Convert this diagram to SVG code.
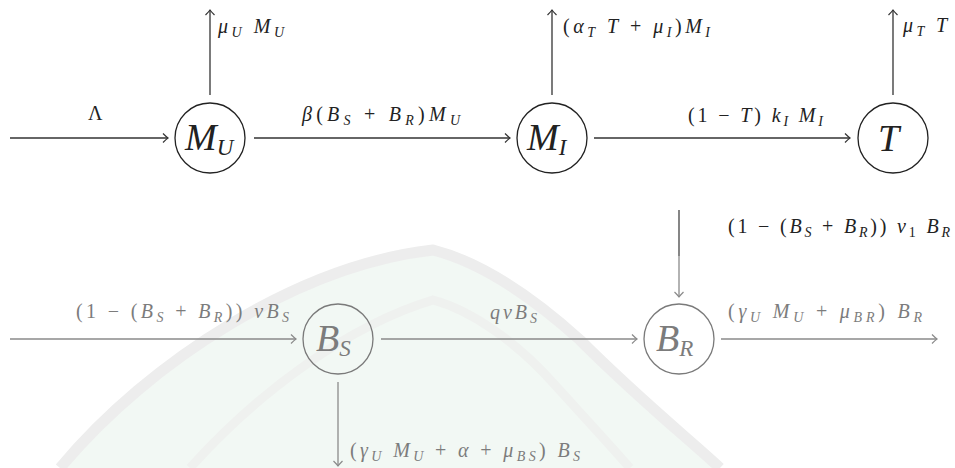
<svg xmlns="http://www.w3.org/2000/svg" width="955" height="468" viewBox="0 0 955 468">
<defs>
<style>
.m{font-family:"Liberation Serif",serif;font-style:italic;font-size:20px;fill:#222}
.r{font-style:normal}
.s{font-size:14px}
.nl{font-family:"Liberation Serif",serif;font-style:italic;font-size:38px;fill:#222}
.ns{font-size:23px}
.g{fill:#7c7c7c}
.node{fill:none;stroke:#222;stroke-width:1.3}
.gnode{fill:none;stroke:#7a7a7a;stroke-width:1.3}
.e{fill:none;stroke:#333;stroke-width:1.3}
.ge{fill:none;stroke:#8a8a8a;stroke-width:1.3}
</style>
<marker id="ah" markerWidth="12" markerHeight="12" viewBox="-7 -6 8 12" refX="0" refY="0" orient="auto" markerUnits="userSpaceOnUse">
<path d="M-5,-4.5 Q-1.5,-1 0,0 Q-1.5,1 -5,4.5" fill="none" stroke="#333" stroke-width="1.2"/>
</marker>
<marker id="gah" markerWidth="12" markerHeight="12" viewBox="-7 -6 8 12" refX="0" refY="0" orient="auto" markerUnits="userSpaceOnUse">
<path d="M-5,-4.5 Q-1.5,-1 0,0 Q-1.5,1 -5,4.5" fill="none" stroke="#8a8a8a" stroke-width="1.2"/>
</marker>
</defs>
<rect width="955" height="468" fill="#fff"/>
<g id="watermark">
<path d="M60,468 C150,360 300,265 433,250 C480,262 530,295 580,340 C640,400 690,440 720,468 Z" fill="#f2f8f4"/>
<path d="M60,468 C150,360 300,265 433,250 C480,262 530,295 580,340 C640,400 690,440 720,468" fill="none" stroke="#ededed" stroke-width="11"/>
<path d="M190,468 C260,390 350,325 433,300 C470,310 515,340 555,385 C585,418 610,445 630,468" fill="none" stroke="#eff1ef" stroke-width="9"/>
</g>
<g id="connectors">
<line class="e" x1="10" y1="138" x2="168" y2="138" marker-end="url(#ah)"/>
<line class="e" x1="210" y1="95" x2="210" y2="10" marker-end="url(#ah)"/>
<line class="e" x1="254" y1="138" x2="510" y2="138" marker-end="url(#ah)"/>
<line class="e" x1="552" y1="95" x2="552" y2="10" marker-end="url(#ah)"/>
<line class="e" x1="594" y1="138" x2="850" y2="138" marker-end="url(#ah)"/>
<line class="e" x1="893" y1="95" x2="893" y2="10" marker-end="url(#ah)"/>
<line class="ge" x1="10" y1="339" x2="296" y2="339" marker-end="url(#gah)"/>
<line class="ge" x1="381" y1="339" x2="637" y2="339" marker-end="url(#gah)"/>
<line x1="679" y1="210" x2="679" y2="256" stroke="#444" stroke-width="1.3"/>
<line class="ge" x1="679" y1="256" x2="679" y2="297" marker-end="url(#gah)"/>
<line class="ge" x1="721" y1="339" x2="937" y2="339" marker-end="url(#gah)"/>
<line class="ge" x1="338" y1="382" x2="338" y2="466" marker-end="url(#gah)"/>
</g>
<g id="labels">
<text class="m r" x="88" y="120">Λ</text>
<text class="m" x="218" y="33" textLength="66" lengthAdjust="spacing">μ<tspan class="s" dy="4">U</tspan><tspan dy="-4"> M</tspan><tspan class="s" dy="4">U</tspan></text>
<text class="m" x="302" y="121" textLength="158" lengthAdjust="spacing">β<tspan class="r">(</tspan>B<tspan class="s" dy="4">S</tspan><tspan class="r" dy="-4"> + </tspan>B<tspan class="s" dy="4">R</tspan><tspan class="r" dy="-4">)</tspan>M<tspan class="s" dy="4">U</tspan></text>
<text class="m" x="563" y="33" textLength="147" lengthAdjust="spacing"><tspan class="r">(</tspan>α<tspan class="s" dy="4">T</tspan><tspan dy="-4"> T</tspan><tspan class="r"> + </tspan>μ<tspan class="s" dy="4">I</tspan><tspan class="r" dy="-4">)</tspan>M<tspan class="s" dy="4">I</tspan></text>
<text class="m" x="688" y="122" textLength="135" lengthAdjust="spacing"><tspan class="r">(1 − </tspan>T<tspan class="r">) </tspan>k<tspan class="s" dy="4">I</tspan><tspan dy="-4"> M</tspan><tspan class="s" dy="4">I</tspan></text>
<text class="m" x="903" y="32" textLength="44" lengthAdjust="spacing">μ<tspan class="s" dy="4">T</tspan><tspan dy="-4"> T</tspan></text>
<text class="m g" x="76" y="318" textLength="213" lengthAdjust="spacing"><tspan class="r">(1 − (</tspan>B<tspan class="s" dy="4">S</tspan><tspan class="r" dy="-4"> + </tspan>B<tspan class="s" dy="4">R</tspan><tspan class="r" dy="-4">)) </tspan>νB<tspan class="s" dy="4">S</tspan></text>
<text class="m g" x="490" y="319" textLength="47" lengthAdjust="spacing">qνB<tspan class="s" dy="4">S</tspan></text>
<text class="m" x="728" y="233" textLength="222" lengthAdjust="spacing"><tspan class="r">(1 − (</tspan>B<tspan class="s" dy="4">S</tspan><tspan class="r" dy="-4"> + </tspan>B<tspan class="s" dy="4">R</tspan><tspan class="r" dy="-4">)) </tspan>ν<tspan class="s r" dy="4">1</tspan><tspan dy="-4"> B</tspan><tspan class="s" dy="4">R</tspan></text>
<text class="m g" x="728" y="318" textLength="194" lengthAdjust="spacing"><tspan class="r">(</tspan>γ<tspan class="s" dy="4">U</tspan><tspan dy="-4"> M</tspan><tspan class="s" dy="4">U</tspan><tspan class="r" dy="-4"> + </tspan>μ<tspan class="s" dy="4">BR</tspan><tspan class="r" dy="-4">) </tspan>B<tspan class="s" dy="4">R</tspan></text>
<text class="m g" x="350" y="457" textLength="230" lengthAdjust="spacing"><tspan class="r">(</tspan>γ<tspan class="s" dy="4">U</tspan><tspan dy="-4"> M</tspan><tspan class="s" dy="4">U</tspan><tspan class="r" dy="-4"> + </tspan>α<tspan class="r"> + </tspan>μ<tspan class="s" dy="4">BS</tspan><tspan class="r" dy="-4">) </tspan>B<tspan class="s" dy="4">S</tspan></text>
</g>
<g id="node-MU">
<circle class="node" cx="210" cy="138" r="35"/>
<text class="nl" x="185" y="150">M<tspan class="ns" dy="5">U</tspan></text>
</g>
<g id="node-MI">
<circle class="node" cx="552" cy="138" r="35"/>
<text class="nl" x="527" y="150">M<tspan class="ns" dy="5">I</tspan></text>
</g>
<g id="node-T">
<circle class="node" cx="893" cy="138" r="35"/>
<text class="nl" x="878" y="151">T</text>
</g>
<g id="node-BS">
<circle class="gnode" cx="338" cy="339" r="35"/>
<text class="nl g" x="316" y="351">B<tspan class="ns" dy="5">S</tspan></text>
</g>
<g id="node-BR">
<circle class="gnode" cx="679" cy="339" r="35"/>
<text class="nl g" x="656" y="351">B<tspan class="ns" dy="5">R</tspan></text>
</g>
</svg>
